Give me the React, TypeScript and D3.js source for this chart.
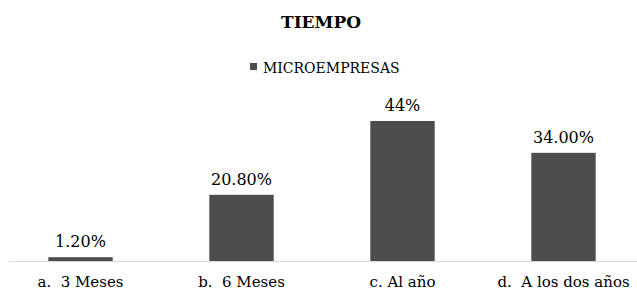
import { useRef, useEffect } from "react";
import * as d3 from "d3";

const categories = ["a.  3 Meses", "b.  6 Meses", "c. Al año", "d.  A los dos años"];
const values = [1.2, 20.8, 44, 34];
const valueLabels = ["1.20%", "20.80%", "44%", "34.00%"];
const seriesName = "MICROEMPRESAS";
const title = "TIEMPO";

const App = () => {
  const chartRef = useRef<HTMLDivElement>(null);

  useEffect(() => {
    const el = chartRef.current;
    const width = 637;
    const height = 291;
    const baseline = 261;
    const font = "'DejaVu Serif', serif";
    const barColor = "#4d4d4d";

    const svg = d3
      .select(el)
      .append("svg")
      .attr("width", width)
      .attr("height", height)
      .style("position", "absolute")
      .style("left", "0px")
      .style("top", "0px")
      .style("background", "#fff");

    const x = d3
      .scaleBand<string>()
      .domain(categories)
      .range([0, 644])
      .paddingInner(0.6)
      .paddingOuter(0.3);

    const y = d3.scaleLinear().domain([0, 44]).range([baseline, 121]);

    // title
    svg
      .append("text")
      .attr("x", 321)
      .attr("y", 28)
      .attr("text-anchor", "middle")
      .style("font-family", font)
      .style("font-weight", "bold")
      .style("font-size", "17px")
      .text(title);

    // legend
    svg
      .append("rect")
      .attr("x", 250)
      .attr("y", 63)
      .attr("width", 7)
      .attr("height", 7)
      .attr("fill", barColor);
    svg
      .append("text")
      .attr("x", 263)
      .attr("y", 73)
      .style("font-family", font)
      .style("font-size", "14px")
      .text(seriesName);

    // bars
    svg
      .selectAll(".bar")
      .data(values)
      .enter()
      .append("rect")
      .attr("class", "bar")
      .attr("x", (_d, i) => x(categories[i]) as number)
      .attr("y", d => y(d))
      .attr("width", x.bandwidth())
      .attr("height", d => baseline - y(d))
      .attr("fill", barColor);

    // axis line
    svg
      .append("line")
      .attr("x1", 9)
      .attr("x2", 637)
      .attr("y1", baseline + 0.5)
      .attr("y2", baseline + 0.5)
      .attr("stroke", "#d9d9d9")
      .attr("stroke-width", 1);

    // value labels
    svg
      .selectAll(".val")
      .data(values)
      .enter()
      .append("text")
      .attr("class", "val")
      .attr("x", (_d, i) => (x(categories[i]) as number) + x.bandwidth() / 2)
      .attr("y", d => y(d) - 10)
      .attr("text-anchor", "middle")
      .style("font-family", font)
      .style("font-size", "16px")
      .text((_d, i) => valueLabels[i]);

    // category labels
    svg
      .selectAll(".cat")
      .data(categories)
      .enter()
      .append("text")
      .attr("class", "cat")
      .attr("x", d => (x(d) as number) + x.bandwidth() / 2)
      .attr("y", 287)
      .attr("text-anchor", "middle")
      .style("font-family", font)
      .style("font-size", "15px")
      .style("white-space", "pre")
      .text(d => d);

    return () => {
      d3.select(el).select("svg").remove();
    };
  }, []);

  return <div ref={chartRef}></div>;
};

export default App;
